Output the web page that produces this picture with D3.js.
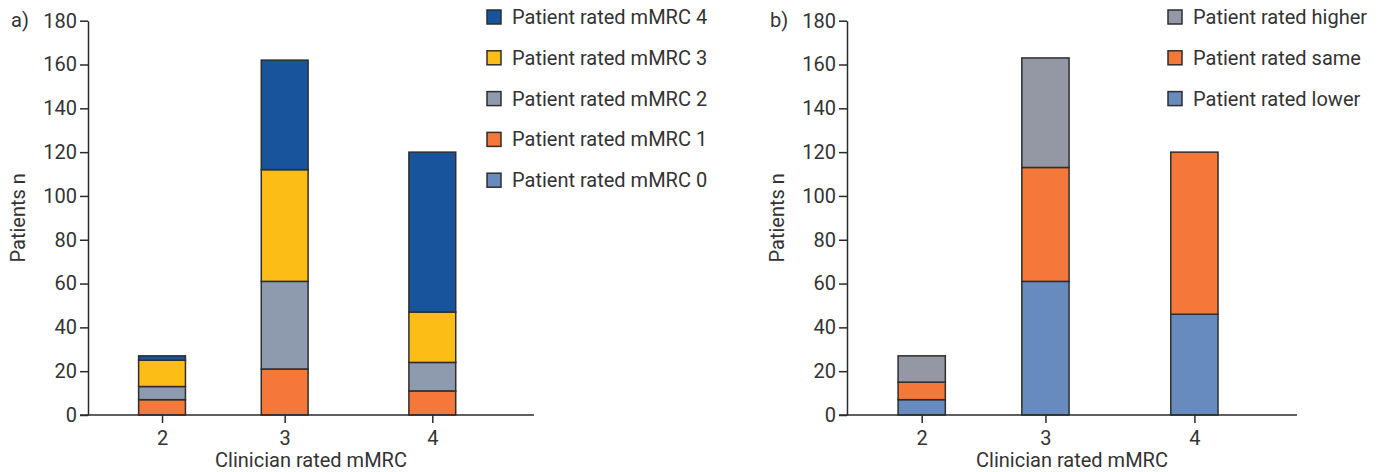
<!DOCTYPE html>
<html>
<head>
<meta charset="utf-8">
<script src="https://cdn.jsdelivr.net/npm/d3@7"></script>
<style>
  body { margin: 0; background: #fff; }
  svg { display: block; font-family: Roboto, "Liberation Sans", sans-serif; }
  .axis path, .axis line { stroke: #2b2b2b; stroke-width: 1.5; }
  .axis text { font-size: 20px; fill: #333; font-family: Roboto, sans-serif; }
</style>
</head>
<body>
<svg id="chart"></svg>
<script>
// clinician rated mMRC categories
const categories = ["2", "3", "4"];
const yTicks = [0, 20, 40, 60, 80, 100, 120, 140, 160, 180];

// panel a: patient rated mMRC per clinician category
const mmrc0 = [0, 0, 0];
const mmrc1 = [7, 21, 11];
const mmrc2 = [6, 40, 13];
const mmrc3 = [12, 51, 23];
const mmrc4 = [2, 50, 73];

// panel b: patient vs clinician
const ratedLower = [7, 61, 46];
const ratedSame = [8, 52, 74];
const ratedHigher = [12, 50, 0];

const W = 1384, H = 472;
const yTop = 20.7, yBottom = 415;
// where the categories sit along each x axis (fraction of axis length)
const catFrac = [0.166, 0.441, 0.772];
const barFrac = 0.105;

const svg = d3.select("#chart").attr("width", W).attr("height", H);

const y = d3.scaleLinear().domain([0, 180]).range([yBottom, yTop]);

function drawPanel(p) {
  const g = svg.append("g");
  const x = d3.scaleOrdinal()
    .domain(categories)
    .range(catFrac.map(f => p.left + f * (p.right - p.left)));
  const bw = barFrac * (p.right - p.left);

  const table = categories.map((c, i) => {
    const row = {cat: c};
    p.series.forEach(s => row[s.name] = s.values[i]);
    return row;
  });
  const stacked = d3.stack().keys(p.series.map(s => s.name))(table);
  const color = d3.scaleOrdinal()
    .domain(p.series.map(s => s.name))
    .range(p.series.map(s => s.color));

  g.selectAll("g.layer")
    .data(stacked)
    .join("g")
    .attr("class", "layer")
    .attr("fill", d => color(d.key))
    .selectAll("rect")
    .data(d => d.filter(v => v[1] - v[0] > 0))
    .join("rect")
    .attr("x", d => x(d.data.cat) - bw / 2)
    .attr("y", d => y(d[1]))
    .attr("width", bw)
    .attr("height", d => y(d[0]) - y(d[1]))
    .attr("stroke", "#2e2e2e")
    .attr("stroke-width", 1.5);

  // y axis
  g.append("g")
    .attr("class", "axis")
    .attr("transform", `translate(${p.left},0)`)
    .call(d3.axisLeft(y).tickValues(yTicks).tickSize(8).tickSizeOuter(0).tickPadding(3));

  // x axis
  const xa = g.append("g")
    .attr("class", "axis")
    .attr("transform", `translate(0,${yBottom})`)
    .call(d3.axisBottom(x).tickSize(8).tickSizeOuter(0).tickPadding(8));
  xa.select(".domain").remove();
  xa.append("line")
    .attr("x1", p.left - 8).attr("x2", p.right)
    .attr("y1", 0).attr("y2", 0);

  g.append("text")
    .attr("x", (p.left + p.right) / 2)
    .attr("y", 467)
    .attr("text-anchor", "middle")
    .attr("font-size", 20)
    .attr("fill", "#333")
    .text("Clinician rated mMRC");

  g.append("text")
    .attr("transform", `translate(${p.left - 63},${(yTop + yBottom) / 2}) rotate(-90)`)
    .attr("text-anchor", "middle")
    .attr("font-size", 20)
    .attr("fill", "#333")
    .text("Patients n");

  g.append("text")
    .attr("x", p.left - 77)
    .attr("y", 27)
    .attr("font-size", 20)
    .attr("fill", "#333")
    .text(p.label);

  // legend, top series first
  const leg = g.append("g")
    .attr("transform", `translate(${p.legendX},0)`)
    .selectAll("g")
    .data(p.series.slice().reverse())
    .join("g")
    .attr("transform", (d, i) => `translate(0,${17 + i * 40.8})`);
  leg.append("rect")
    .attr("x", 0).attr("y", -7)
    .attr("width", 14).attr("height", 14)
    .attr("fill", d => d.color)
    .attr("stroke", "#2e2e2e")
    .attr("stroke-width", 1.5);
  leg.append("text")
    .attr("x", 25)
    .attr("y", 7)
    .attr("font-size", 20)
    .attr("fill", "#333")
    .text(d => d.name);
}

drawPanel({
  left: 88, right: 534, label: "a)", legendX: 487,
  series: [
    {name: "Patient rated mMRC 0", values: mmrc0, color: "#678bbc"},
    {name: "Patient rated mMRC 1", values: mmrc1, color: "#f3783a"},
    {name: "Patient rated mMRC 2", values: mmrc2, color: "#8e9aad"},
    {name: "Patient rated mMRC 3", values: mmrc3, color: "#fbbd16"},
    {name: "Patient rated mMRC 4", values: mmrc4, color: "#17549b"}
  ]
});

drawPanel({
  left: 847, right: 1297, label: "b)", legendX: 1168,
  series: [
    {name: "Patient rated lower", values: ratedLower, color: "#678bbc"},
    {name: "Patient rated same", values: ratedSame, color: "#f3783a"},
    {name: "Patient rated higher", values: ratedHigher, color: "#9398a4"}
  ]
});
</script>
</body>
</html>
